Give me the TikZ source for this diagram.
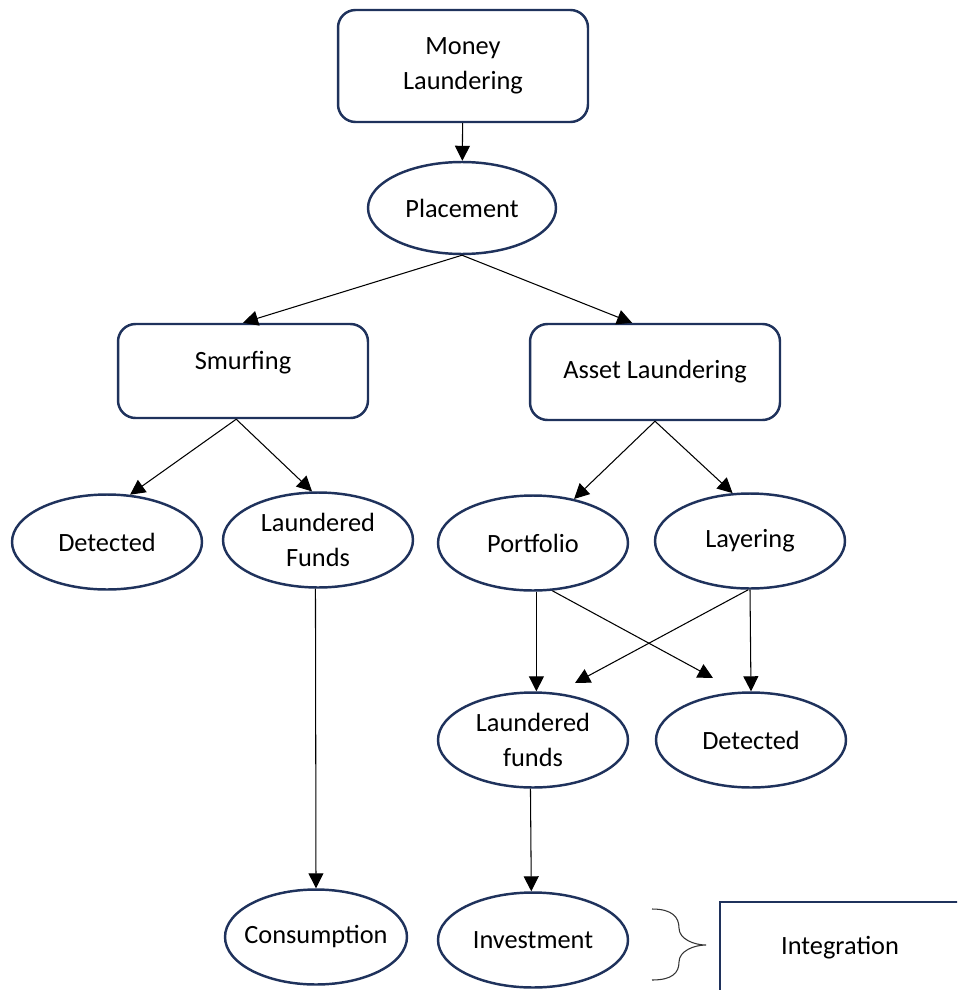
\documentclass[tikz,border=0pt]{standalone}
\usepackage{fontspec}
\setmainfont{Carlito}
\usetikzlibrary{shapes.geometric,arrows.meta}
\definecolor{navy}{RGB}{31,50,92}
\tikzset{
  txt/.style={font=\fontsize{15}{20}\selectfont, align=center, draw=navy, line width=1.4pt},
  rbox/.style={txt, rectangle, rounded corners=3.5mm, minimum width=5cm},
  oval/.style={txt, ellipse, inner sep=0pt, minimum width=3.8cm, minimum height=1.9cm},
  arr/.style={-{Triangle[length=3mm,width=3mm]}, line width=0.6pt, black}
}

\begin{document}
\begin{tikzpicture}[x=0.02cm, y=-0.02cm]
\useasboundingbox (0,0) rectangle (957,990);
\clip (0,0) rectangle (957,990);
\node[rbox, minimum height=2.24cm] (money) at (463,66) {Money\\Laundering};
\node[oval, minimum width=3.76cm, minimum height=1.84cm] (place) at (462,208) {Placement};
\node[rbox, minimum height=1.88cm, text depth=0.42cm] (smurf) at (243,371) {Smurfing};
\node[rbox, minimum height=1.92cm] (asset) at (655,372) {Asset Laundering};
\node[oval] (det1) at (107,542) {Detected};
\node[oval] (lf1) at (318,540) {Laundered\\Funds};
\node[oval] (port) at (533,543) {Portfolio};
\node[oval] (layer) at (750,541) {Layering};
\node[oval] (lf2) at (533,740) {Laundered\\funds};
\node[oval] (det2) at (751,740) {Detected};
\node[oval, inner xsep=-0.25cm, minimum width=3.64cm] (cons) at (316,937) {Consumption};
\node[oval] (invest) at (533,940) {Investment};
\node[txt, rectangle, minimum width=4.8cm, minimum height=1.84cm] (integ) at (840,948) {Integration};
\coordinate (pd) at (713,678);
\coordinate (lp) at (575,683);

\draw[arr] (money) -- (place);
\draw[arr] (place.south) -- (smurf.north); \draw[arr] (place.south) -- (asset.115);
\draw[arr] (smurf.-98) -- (det1.64); \draw[arr] (smurf.-98) -- (lf1.97);
\draw[arr] (asset.south) -- (port.47); \draw[arr] (asset.south) -- (layer.110);
\draw[arr] (port.-86) -- (lf2.86); \draw[arr] (port.-68) -- (pd);
\draw[arr] (layer.-92) -- (lp); \draw[arr] (layer.south) -- (det2.north);
\draw[arr] (lf1.-93) -- (cons.north);
\draw[arr] (lf2.-93) -- (invest.92);
% brace before Integration
\draw[line width=0.6pt, black!80] (652,909) .. controls (672,909) and (679,917) .. (679,928)
  .. controls (679,939) and (694,945) .. (706,945)
  .. controls (694,945) and (679,951) .. (679,962)
  .. controls (679,973) and (672,980) .. (652,980);
\end{tikzpicture}
\end{document}
